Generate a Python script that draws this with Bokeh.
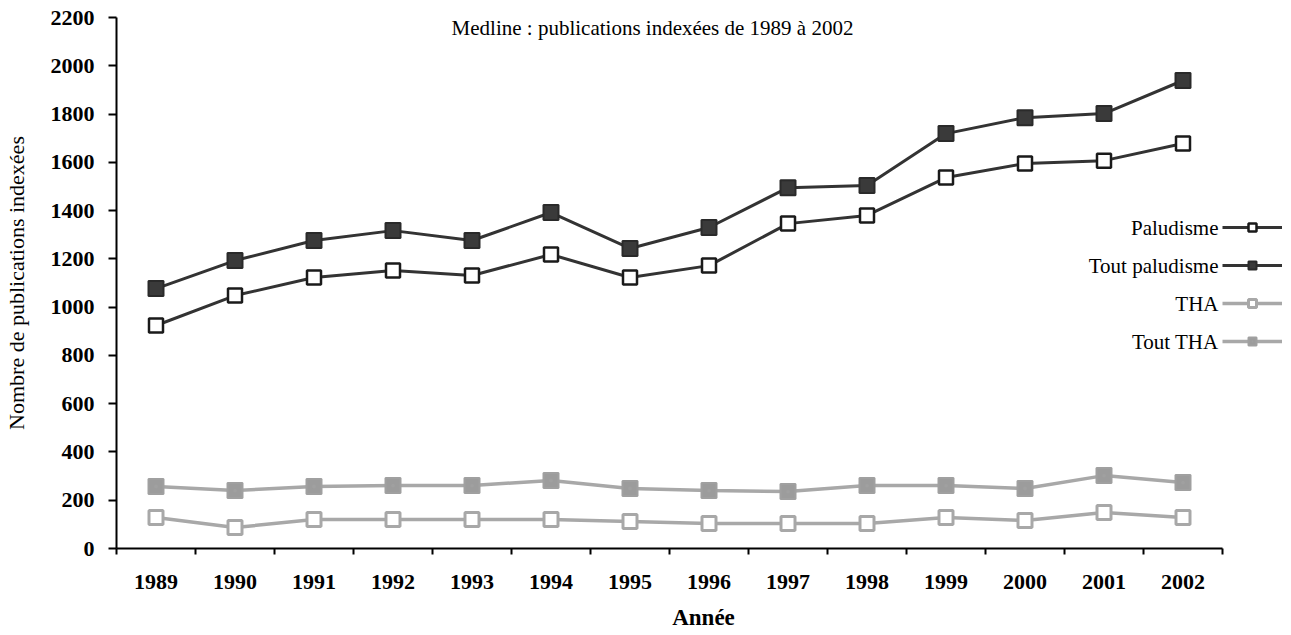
from bokeh.plotting import figure
from bokeh.models import Range1d, FixedTicker, Legend, LegendItem, Label
from bokeh.core.properties import value
from bokeh.embed import file_html
from bokeh.resources import INLINE

years = ["1989", "1990", "1991", "1992", "1993", "1994", "1995",
         "1996", "1997", "1998", "1999", "2000", "2001", "2002"]
paludisme = [924, 1048, 1123, 1152, 1131, 1218, 1123, 1172, 1346, 1380, 1537, 1595, 1607, 1678]
tout_paludisme = [1077, 1193, 1276, 1317, 1276, 1392, 1243, 1330, 1495, 1504, 1719, 1785, 1802, 1939]
tha = [128, 87, 120, 120, 120, 120, 112, 104, 104, 104, 128, 116, 149, 128]
tout_tha = [257, 240, 257, 261, 261, 282, 249, 240, 236, 261, 261, 249, 302, 273]
y_ticks = [0, 200, 400, 600, 800, 1000, 1200, 1400, 1600, 1800, 2000, 2200]
series_names = ["Paludisme", "Tout paludisme", "THA", "Tout THA"]

title_text = "Medline : publications indexées de 1989 à 2002"
x_label = "Année"
y_label = "Nombre de publications indexées"

serif = "Liberation Serif"
W, H = 1290, 634
LEFT, TOP, BOTTOM = 116, 17, 86
cat_px = 79.0                      # width of one year slot in pixels
n = len(years)
xs = [i + 0.5 for i in range(n)]
x_end = (W - LEFT) / cat_px        # frame extends to the right edge so the legend fits
frame_h = H - TOP - BOTTOM
px_per_unit = frame_h / 2200.0

p = figure(width=W, height=H, output_backend="svg", toolbar_location=None,
           x_range=Range1d(0, x_end), y_range=Range1d(0, 2200),
           min_border_left=LEFT, min_border_right=0, min_border_top=TOP, min_border_bottom=BOTTOM)
p.outline_line_color = None
p.grid.visible = False
p.background_fill_color = "white"

xa = p.xaxis[0]
xa.bounds = (0, n)
xa.ticker = FixedTicker(ticks=xs, minor_ticks=list(range(n + 1)))
xa.major_label_overrides = {x: y for x, y in zip(xs, years)}
xa.major_tick_out = 0
xa.major_tick_in = 0
xa.minor_tick_out = 6
xa.minor_tick_in = 0
xa.minor_tick_line_color = "black"
xa.minor_tick_line_width = 2
xa.axis_line_width = 2
xa.axis_line_color = "black"
xa.major_label_standoff = 20
xa.major_label_text_font = serif
xa.major_label_text_font_style = "bold"
xa.major_label_text_font_size = "22px"
xa.major_label_text_color = "black"
xa.axis_label = x_label
xa.axis_label_text_font = serif
xa.axis_label_text_font_style = "bold"
xa.axis_label_text_font_size = "23px"
xa.axis_label_text_color = "black"
xa.axis_label_standoff = 13

ya = p.yaxis[0]
ya.ticker = FixedTicker(ticks=y_ticks, minor_ticks=[])
ya.major_tick_out = 8
ya.major_tick_in = 0
ya.major_tick_line_width = 2
ya.axis_line_width = 2
ya.axis_line_color = "black"
ya.major_label_standoff = 14
ya.major_label_text_font = serif
ya.major_label_text_font_style = "bold"
ya.major_label_text_font_size = "22px"
ya.major_label_text_color = "black"
ya.axis_label = y_label
ya.axis_label_text_font = serif
ya.axis_label_text_font_style = "normal"
ya.axis_label_text_font_size = "22px"
ya.axis_label_text_color = "black"
ya.axis_label_standoff = 19

dark = "#333333"
grey = "#a8a8a8"

l1 = p.line(xs, paludisme, line_color=dark, line_width=3)
s1 = p.scatter(xs, paludisme, marker="square", size=14, fill_color="white", line_color="#1a1a1a", line_width=2.5)
l2 = p.line(xs, tout_paludisme, line_color=dark, line_width=3)
s2 = p.scatter(xs, tout_paludisme, marker="square", size=15, fill_color="#3a3a3a", line_color="#2a2a2a", line_width=2)
l3 = p.line(xs, tha, line_color=grey, line_width=3.5)
s3 = p.scatter(xs, tha, marker="square", size=14, fill_color="white", line_color=grey, line_width=3)
l4 = p.line(xs, tout_tha, line_color=grey, line_width=3.5)
s4 = p.scatter(xs, tout_tha, marker="square_dot", size=15, fill_color="#9c9c9c", line_color="#a0a0a0", line_width=2)

# legend: glyph samples to the right of the axis end, names written to their left
glyph_w, glyph_h, row_gap = 60, 20, 18
rows = len(series_names)
legend_top_px = 217                      # page px from top
legend_h = rows * glyph_h + (rows - 1) * row_gap
legend_y = frame_h + TOP - legend_top_px - legend_h
legend = Legend(items=[
    LegendItem(label=value(""), renderers=[l1, s1]),
    LegendItem(label=value(""), renderers=[l2, s2]),
    LegendItem(label=value(""), renderers=[l3, s3]),
    LegendItem(label=value(""), renderers=[l4, s4]),
], location=(n * cat_px, legend_y))
legend.border_line_color = None
legend.background_fill_alpha = 0
legend.glyph_width = glyph_w
legend.glyph_height = glyph_h
legend.label_height = glyph_h
legend.label_width = 0
legend.label_standoff = 0
legend.spacing = row_gap
legend.padding = 0
legend.margin = 0
legend.label_text_font_size = "1px"
p.add_layout(legend, "center")

for i, name in enumerate(series_names):
    row_center_px = legend_top_px + glyph_h / 2 + i * (glyph_h + row_gap)   # page px from top
    y_val = (frame_h + TOP - row_center_px) / px_per_unit
    p.add_layout(Label(x=n - 4 / cat_px, y=y_val, text=name, text_align="right", text_baseline="middle",
                       text_font=serif, text_font_size="21px", text_color="black"))

p.add_layout(Label(x=6.785, y=2158, text=title_text, text_align="center", text_baseline="middle",
                   text_font=serif, text_font_size="21px", text_color="black"))

open("out.html", "w").write(file_html(p, INLINE))
